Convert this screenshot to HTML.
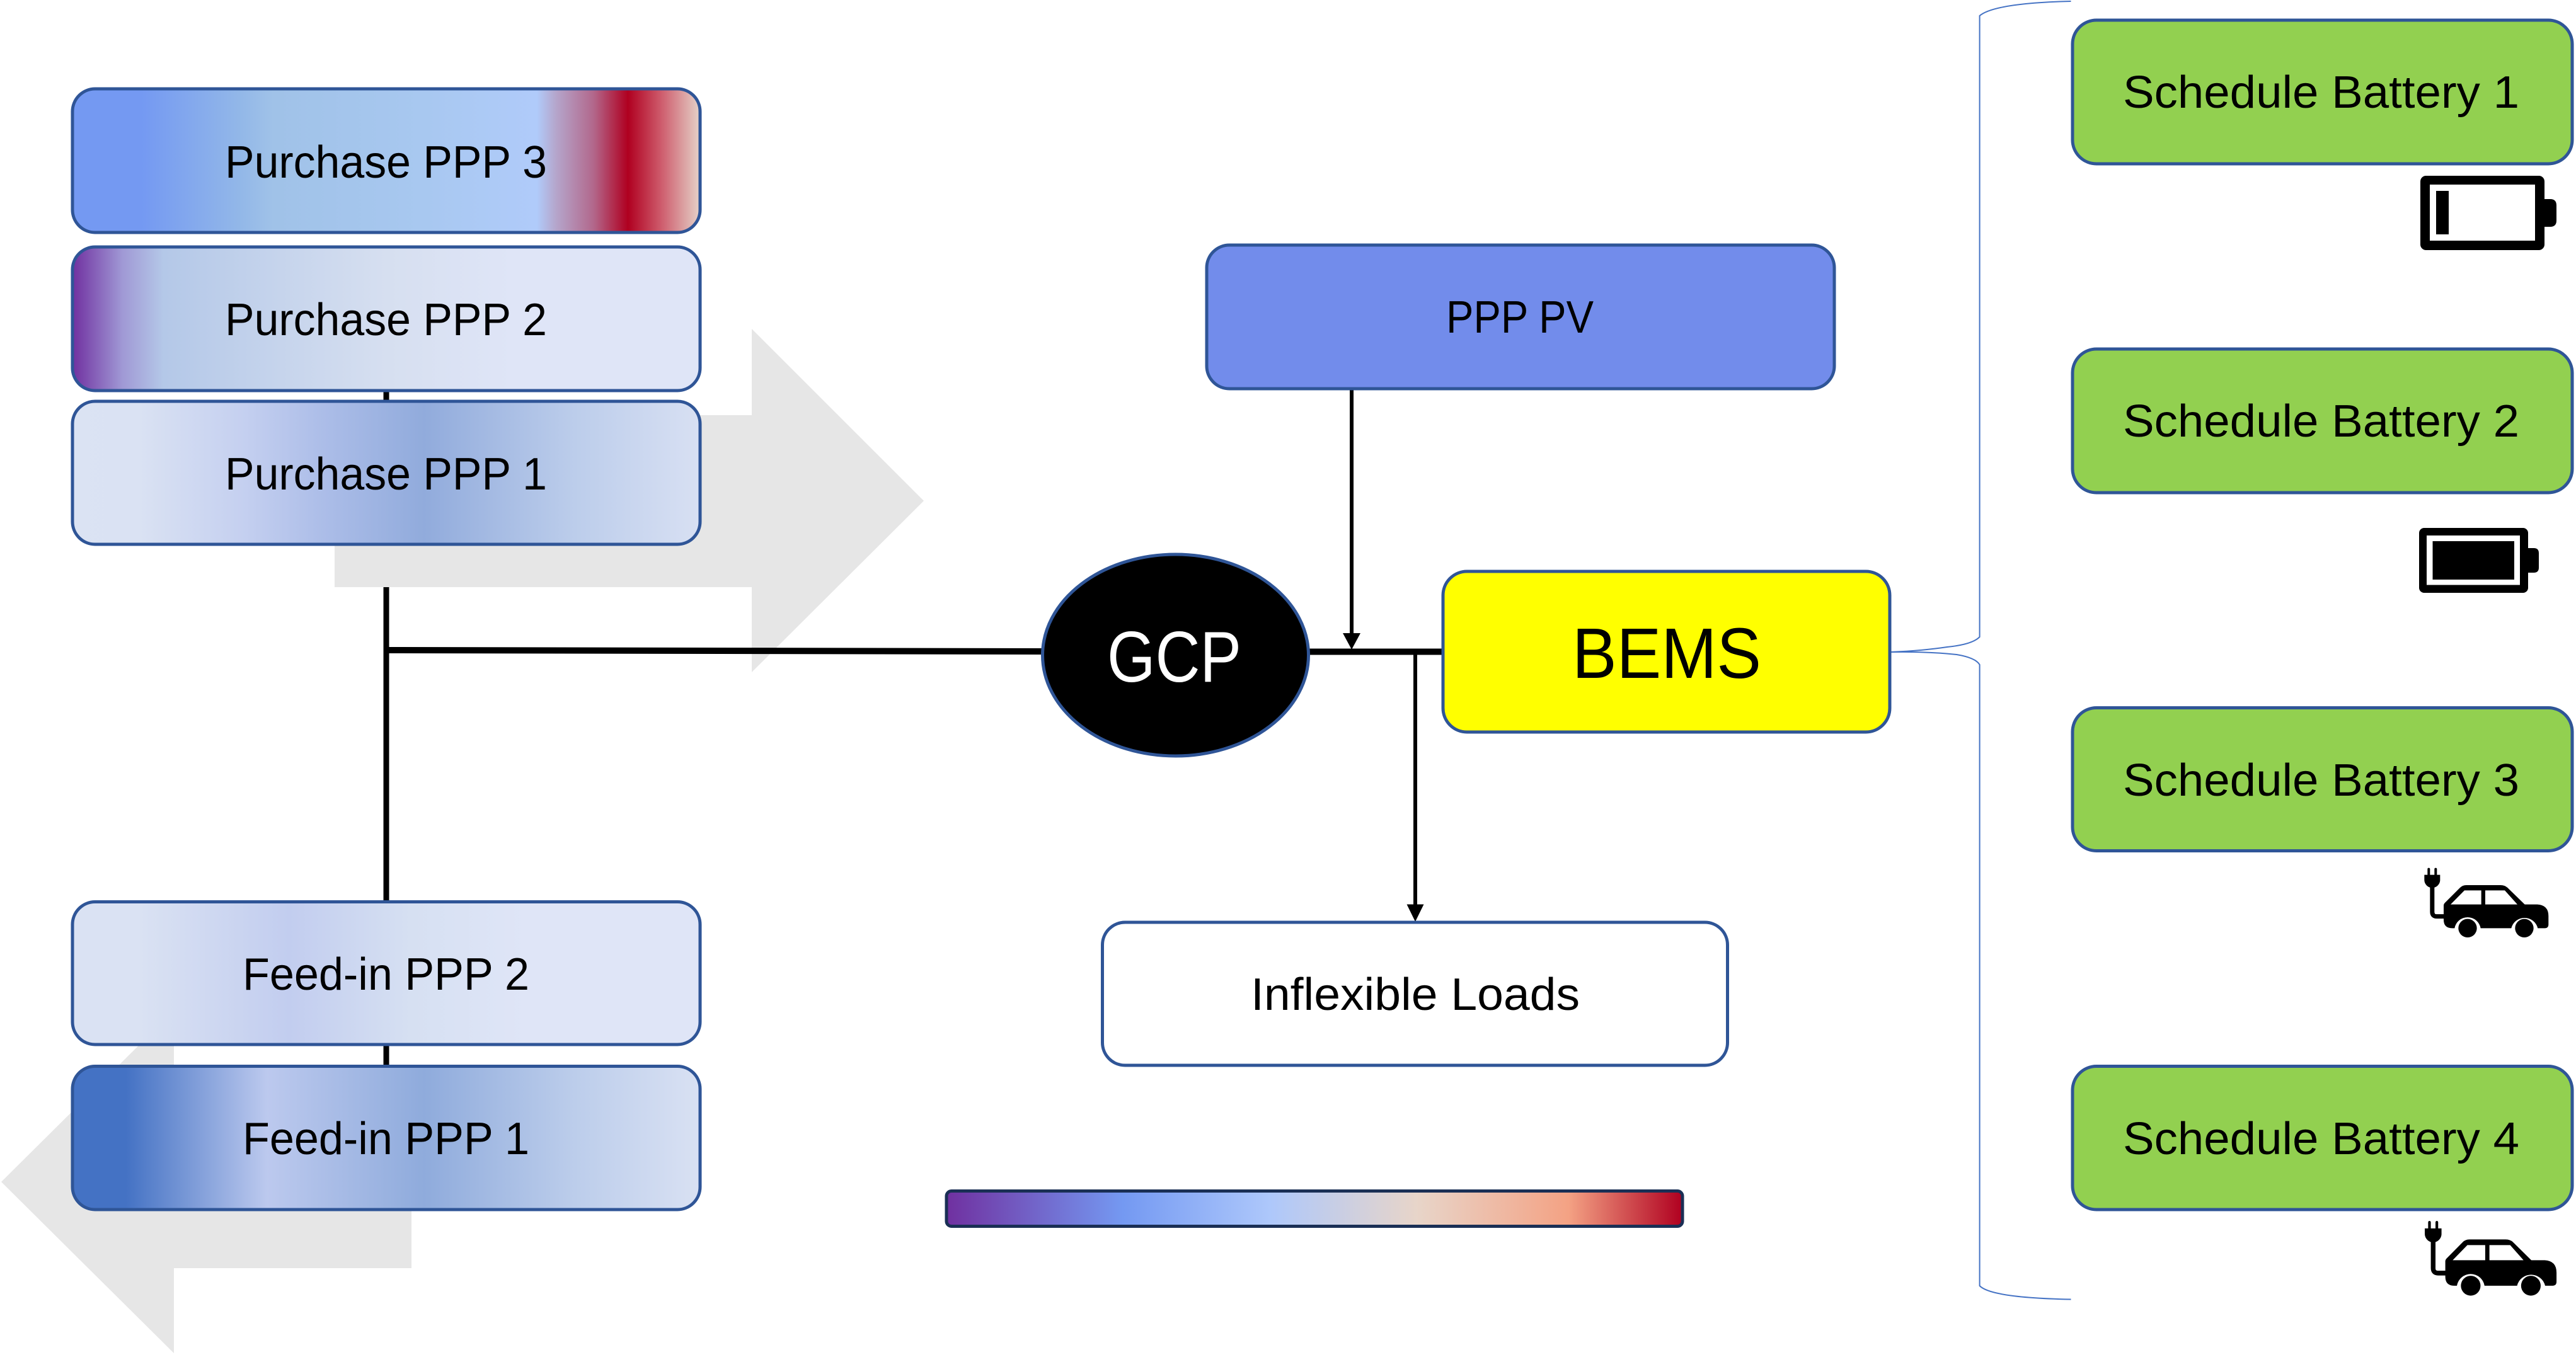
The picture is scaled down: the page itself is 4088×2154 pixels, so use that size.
<!DOCTYPE html>
<html>
<head>
<meta charset="utf-8">
<title>Diagram</title>
<style>
html,body{margin:0;padding:0;background:#fff;width:4088px;height:2154px;overflow:hidden}
svg{display:block}
text{font-family:"Liberation Sans",sans-serif;fill:#000}
</style>
</head>
<body>
<svg width="4088" height="2154" viewBox="0 0 4088 2154" xmlns="http://www.w3.org/2000/svg">
<defs>
<linearGradient id="p3"><stop offset="0" stop-color="#7499f2"/><stop offset=".11" stop-color="#7499f2"/><stop offset=".27" stop-color="#93b8e8"/><stop offset=".32" stop-color="#a0c2e8"/><stop offset=".56" stop-color="#a8c8f0"/><stop offset=".74" stop-color="#b0cbfa"/><stop offset=".77" stop-color="#b5a6cc"/><stop offset=".83" stop-color="#b2688c"/><stop offset=".885" stop-color="#b00020"/><stop offset=".94" stop-color="#cf5f6f"/><stop offset="1" stop-color="#e5d3c9"/></linearGradient>
<linearGradient id="p2"><stop offset="0" stop-color="#7030a0"/><stop offset=".08" stop-color="#a099d5"/><stop offset=".145" stop-color="#b4c8e8"/><stop offset=".5" stop-color="#d6dff0"/><stop offset=".7" stop-color="#dfe5f7"/><stop offset="1" stop-color="#dfe5f7"/></linearGradient>
<linearGradient id="p1"><stop offset="0" stop-color="#dbe3f3"/><stop offset=".105" stop-color="#dae2f3"/><stop offset=".27" stop-color="#c5d0f0"/><stop offset=".4" stop-color="#acbde8"/><stop offset=".56" stop-color="#91abdc"/><stop offset=".8" stop-color="#bccdeb"/><stop offset="1" stop-color="#d8e0f3"/></linearGradient>
<linearGradient id="f2"><stop offset="0" stop-color="#dae2f3"/><stop offset=".105" stop-color="#dae2f3"/><stop offset=".345" stop-color="#c2cdef"/><stop offset=".54" stop-color="#d6e0f2"/><stop offset=".72" stop-color="#dfe5f7"/><stop offset="1" stop-color="#dfe5f7"/></linearGradient>
<linearGradient id="f1"><stop offset="0" stop-color="#4472c4"/><stop offset=".085" stop-color="#4472c4"/><stop offset=".31" stop-color="#bcc9ee"/><stop offset=".56" stop-color="#8fabdc"/><stop offset=".8" stop-color="#bccdeb"/><stop offset="1" stop-color="#d9e1f3"/></linearGradient>
<linearGradient id="bar"><stop offset="0" stop-color="#7030a0"/><stop offset=".24" stop-color="#7499f2"/><stop offset=".44" stop-color="#aec8fb"/><stop offset=".64" stop-color="#e8d5c9"/><stop offset=".845" stop-color="#f4a284"/><stop offset="1" stop-color="#b00020"/></linearGradient>
<g id="car">
<rect x="217" y="83" width="12" height="38" rx="6"/>
<rect x="250" y="83" width="12" height="38" rx="6"/>
<path d="M202 116H277V140C277 162 258 178 239.500 178C221 178 202 162 202 140Z"/>
<path d="M239.500 170V292Q239.500 314 262 314H300" fill="none" stroke="#000" stroke-width="21"/>
<path d="M294 262Q294 255 300 249L372 177Q384 165 402 165H565Q585 165 598 177L680 257H740Q793 260 793 312V352Q793 370 775 370H742A65 65 0 0 0 616 370H470A63 63 0 0 0 346 370H335Q294 370 294 330Z"/>
<path d="M327 257L393 190H473V257ZM492 190H585L645 257H492Z" fill="#fff"/>
<circle cx="408" cy="370" r="44"/>
<circle cx="678" cy="370" r="44"/>
</g>
</defs>

<rect width="4088" height="2154" fill="#fff"/>

<!-- vertical bus sits beneath the grey arrows -->
<line x1="613" y1="600" x2="613" y2="1440" stroke="#000" stroke-width="9"/>
<line x1="613" y1="1650" x2="613" y2="1700" stroke="#000" stroke-width="9"/>

<!-- big grey arrows -->
<polygon points="531,659 1193,659 1193,522 1466,795 1193,1067 1193,932 531,932" fill="#e6e6e6"/>
<polygon points="653,1739 276,1739 276,1604 2,1876 276,2148 276,2013 653,2013" fill="#e6e6e6"/>

<!-- connectors -->
<path d="M609 1032L1656 1034" stroke="#000" stroke-width="10" fill="none"/>
<line x1="2075" y1="1034.500" x2="2292" y2="1034.500" stroke="#000" stroke-width="10"/>
<line x1="2145" y1="618" x2="2145" y2="1008" stroke="#000" stroke-width="6"/>
<polygon points="2131,1005 2159,1005 2145,1031" fill="#000"/>
<line x1="2246" y1="1038" x2="2246" y2="1440" stroke="#000" stroke-width="6"/>
<polygon points="2232.500,1435.500 2259.500,1435.500 2246,1463" fill="#000"/>

<!-- brace -->
<path d="M3286.500 2Q3165 5 3141.600 25V1011Q3130 1023 3090 1027Q3050 1033 3000 1035Q3060 1034 3105 1039Q3135 1044 3141.600 1055V2041Q3160 2060 3286.500 2062.500" fill="none" stroke="#4472c4" stroke-width="2"/>

<!-- boxes -->
<g stroke="#2f5597" stroke-width="5">
<rect x="115" y="141" width="996" height="228" rx="36" fill="url(#p3)"/>
<rect x="115" y="392" width="996" height="228" rx="36" fill="url(#p2)"/>
<rect x="115" y="637" width="996" height="227" rx="36" fill="url(#p1)"/>
<rect x="115" y="1431.500" width="996" height="226.500" rx="36" fill="url(#f2)"/>
<rect x="115" y="1692.500" width="996" height="227.500" rx="36" fill="url(#f1)"/>
<rect x="1915" y="389" width="996" height="228" rx="36" fill="#728ceb"/>
<ellipse cx="1865.500" cy="1040" rx="211" ry="160" fill="#000"/>
<rect x="2290" y="907" width="709" height="255" rx="38" fill="#ffff00"/>
<rect x="1749.500" y="1464" width="992" height="227" rx="36" fill="#fff"/>
<rect x="3289" y="32" width="793" height="228" rx="38" fill="#92d050"/>
<rect x="3289" y="554" width="793" height="228" rx="38" fill="#92d050"/>
<rect x="3289" y="1123.500" width="793" height="227" rx="38" fill="#92d050"/>
<rect x="3289" y="1692.500" width="793" height="227.500" rx="38" fill="#92d050"/>
</g>
<rect x="1502" y="1890.500" width="1168" height="56" rx="8" fill="url(#bar)" stroke="#1a2f55" stroke-width="5"/>

<!-- labels -->
<g font-size="72">
<text x="357" y="282" textLength="511" lengthAdjust="spacingAndGlyphs">Purchase PPP 3</text>
<text x="357" y="532" textLength="511" lengthAdjust="spacingAndGlyphs">Purchase PPP 2</text>
<text x="357" y="777" textLength="511" lengthAdjust="spacingAndGlyphs">Purchase PPP 1</text>
<text x="385" y="1571" textLength="455" lengthAdjust="spacingAndGlyphs">Feed-in PPP 2</text>
<text x="385" y="1832" textLength="455" lengthAdjust="spacingAndGlyphs">Feed-in PPP 1</text>
<text x="2295" y="528" textLength="234" lengthAdjust="spacingAndGlyphs">PPP PV</text>
<text x="1985" y="1603" textLength="522" lengthAdjust="spacingAndGlyphs">Inflexible Loads</text>
<text x="3369" y="171" textLength="629" lengthAdjust="spacingAndGlyphs">Schedule Battery 1</text>
<text x="3369" y="693" textLength="629" lengthAdjust="spacingAndGlyphs">Schedule Battery 2</text>
<text x="3369" y="1263" textLength="629" lengthAdjust="spacingAndGlyphs">Schedule Battery 3</text>
<text x="3369" y="1832" textLength="629" lengthAdjust="spacingAndGlyphs">Schedule Battery 4</text>
</g>
<text x="1757" y="1082" font-size="114" textLength="213" lengthAdjust="spacingAndGlyphs" style="fill:#fff">GCP</text>
<text x="2495" y="1076" font-size="113" textLength="300" lengthAdjust="spacingAndGlyphs">BEMS</text>

<!-- battery 1 -->
<rect x="3841" y="279" width="197" height="118" rx="9" fill="#000"/>
<rect x="3856" y="293" width="167" height="89" fill="#fff"/>
<rect x="3866" y="303" width="20" height="69" fill="#000"/>
<path d="M4036 316H4047Q4057 316 4057 326V350Q4057 360 4047 360H4036Z" fill="#000"/>

<!-- battery 2 -->
<rect x="3839" y="838" width="173" height="103" rx="8" fill="#000"/>
<rect x="3851" y="850" width="148" height="78.500" fill="#fff"/>
<rect x="3860.500" y="859" width="129.500" height="61" fill="#000"/>
<path d="M4010 870H4021Q4029 870 4029 878V901Q4029 909 4021 909H4010Z" fill="#000"/>

<!-- cars -->
<use href="#car" transform="translate(3780 1350) scale(.3333)"/>
<use href="#car" transform="translate(3776.600 1908.300) scale(.3537 .3583)"/>
</svg>
</body>
</html>
